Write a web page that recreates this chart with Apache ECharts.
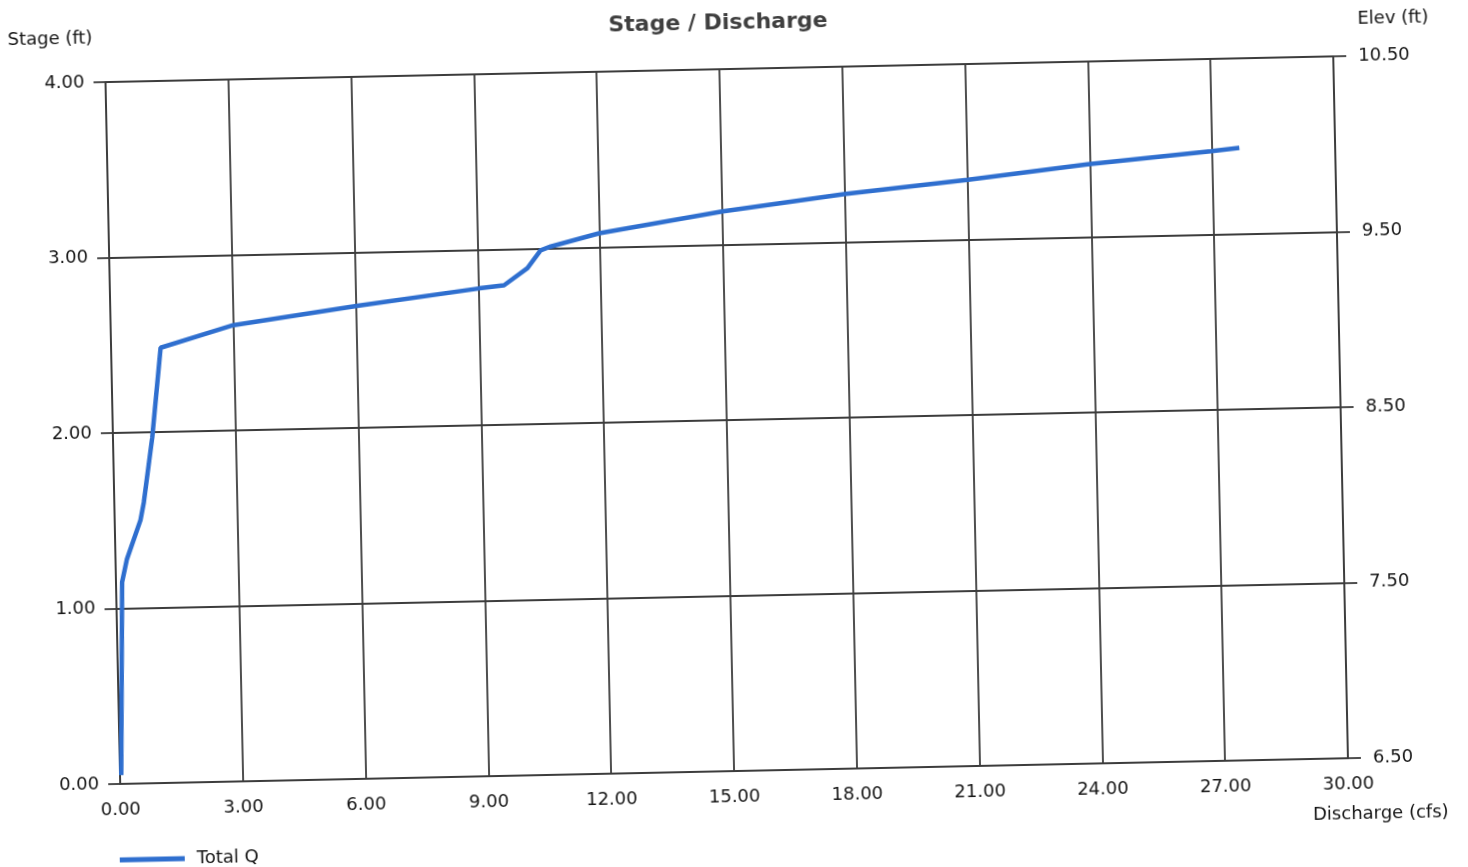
<!DOCTYPE html>
<html>
<head>
<meta charset="utf-8">
<script src="https://cdn.jsdelivr.net/npm/echarts@6/dist/echarts.min.js"></script>
<style>
  html, body { margin: 0; padding: 0; background: #ffffff; }
  #chart { width: 1468px; height: 867px; transform: rotate(-1.2deg); transform-origin: 50% 50%; }
</style>
</head>
<body>
<div id="chart"></div>
<script>
// Data (discharge in cfs, stage in ft)
const discharge = [0.03, 0.09, 0.15, 0.28, 0.63, 0.72, 0.96, 1.21, 3.00, 6.03, 9.02, 9.63, 10.21, 10.54, 10.79, 11.98, 15.00, 18.03, 21.01, 23.95, 26.97, 27.66];
const stage     = [0.05, 0.60, 1.15, 1.28, 1.50, 1.60, 1.97, 2.48, 2.60, 2.695, 2.78, 2.795, 2.89, 2.99, 3.01, 3.08, 3.19, 3.275, 3.34, 3.414, 3.475, 3.49];
const seriesName = 'Total Q';
const xRange = [0, 30], xStep = 3;
const stageRange = [0, 4], stageStep = 1;
const elevRange = [6.5, 10.5], elevStep = 1;

const FONT = 'DejaVu Sans';
const TXT = '#151515';
const pts = discharge.map((q, i) => [q, stage[i]]);

const chart = echarts.init(document.getElementById('chart'), null, { renderer: 'canvas' });
const gridColor = '#3c3c3c';
const lineColor = '#2f6fcf';
chart.setOption({
  backgroundColor: '#ffffff',
  animation: false,
  title: [
    { text: 'Stage / Discharge', left: 617, top: 12, padding: 0,
      textStyle: { fontFamily: FONT, fontSize: 22, fontWeight: 'bold', color: '#3f3f3f' } },
    { text: 'Stage (ft)', left: 16, top: 16, padding: 0,
      textStyle: { fontFamily: FONT, fontSize: 18, fontWeight: 'normal', color: TXT } },
    { text: 'Elev (ft)', left: 1366, top: 23, padding: 0,
      textStyle: { fontFamily: FONT, fontSize: 18, fontWeight: 'normal', color: TXT } },
    { text: 'Discharge (cfs)', left: 1305, top: 818, padding: 0,
      textStyle: { fontFamily: FONT, fontSize: 18, fontWeight: 'normal', color: TXT } }
  ],
  legend: {
    left: 111, top: 838, padding: 0,
    itemWidth: 65, itemHeight: 5,
    data: [{ name: seriesName, icon: 'rect', itemStyle: { color: lineColor } }],
    textStyle: { fontFamily: FONT, fontSize: 18, color: TXT, padding: [0, 0, 0, 7] }
  },
  grid: { left: 113, right: 127, top: 69, bottom: 96, containLabel: false },
  xAxis: {
    type: 'value', min: xRange[0], max: xRange[1], interval: xStep,
    axisLine: { show: true, lineStyle: { color: gridColor, width: 1.8 } },
    axisTick: { show: false },
    axisLabel: { margin: 17, fontFamily: FONT, fontSize: 18, color: TXT,
      formatter: v => v.toFixed(2) },
    splitLine: { show: true, lineStyle: { color: gridColor, width: 1.8 } }
  },
  yAxis: [
    {
      type: 'value', min: stageRange[0], max: stageRange[1], interval: stageStep, position: 'left',
      axisLine: { show: true, lineStyle: { color: gridColor, width: 1.8 } },
      axisTick: { show: true, inside: false, length: 12, lineStyle: { color: gridColor, width: 1.8 } },
      axisLabel: { margin: 21, fontFamily: FONT, fontSize: 18, color: TXT,
        formatter: v => v.toFixed(2) },
      splitLine: { show: true, lineStyle: { color: gridColor, width: 1.8 } }
    },
    {
      type: 'value', min: elevRange[0], max: elevRange[1], interval: elevStep, position: 'right',
      axisLine: { show: true, lineStyle: { color: gridColor, width: 1.8 } },
      axisTick: { show: true, inside: false, length: 13, lineStyle: { color: gridColor, width: 1.8 } },
      axisLabel: { margin: 25, fontFamily: FONT, fontSize: 18, color: TXT,
        formatter: v => v.toFixed(2) },
      splitLine: { show: false }
    }
  ],
  series: [
    {
      name: seriesName, type: 'line', xAxisIndex: 0, yAxisIndex: 0,
      data: pts, symbol: 'none', smooth: false,
      lineStyle: { color: lineColor, width: 4.5 },
      itemStyle: { color: lineColor }
    }
  ]
});
</script>
</body>
</html>
